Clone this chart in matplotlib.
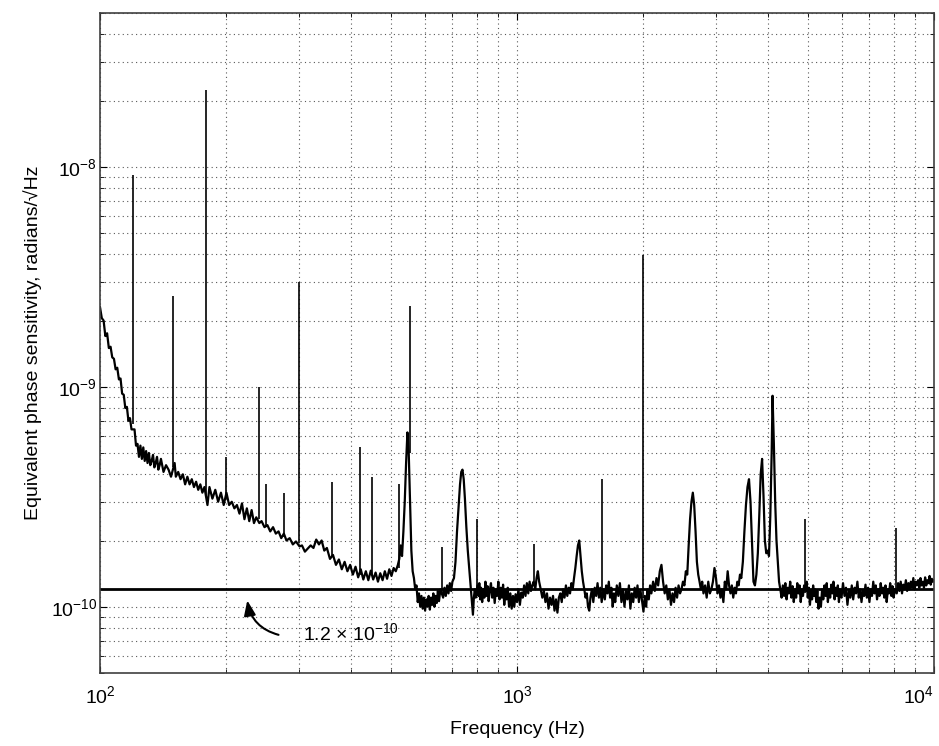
import numpy as np
import matplotlib
matplotlib.use("Agg")
import matplotlib.pyplot as plt
from matplotlib.ticker import LogLocator, NullFormatter

plt.rcParams['font.family'] = ['Liberation Sans', 'DejaVu Sans']
plt.rcParams['mathtext.default'] = 'regular'

UNIT = 1e-10

# noise trace below ~560 Hz (Hz, units of 1e-10 rad/sqrt(Hz))
freq_low = [
    100, 101, 102, 103, 104, 105, 106, 107, 108, 109, 110, 111, 112, 113, 114, 115, 116, 117, 118, 119,
    121, 122, 123, 124, 125, 126, 127, 128, 129, 130, 131, 132, 133, 134, 135, 136, 137, 138, 139, 140,
    142, 144, 146, 148, 151, 152, 154, 156, 158, 160, 162, 164, 166, 168, 170, 172, 174, 176, 178, 181,
    183, 186, 189, 192, 195, 198, 201, 204, 207, 210, 213, 216, 219, 222, 225, 228, 231, 234, 237, 241,
    244, 248, 252, 256, 260, 264, 268, 272, 276, 280, 285, 290, 295, 301, 305, 310, 315, 320, 325, 330,
    335, 340, 345, 350, 356, 362, 368, 374, 380, 386, 392, 398, 404, 410, 416, 422, 428, 434, 440, 446,
    452, 458, 464, 470, 476, 482, 488, 494, 500, 506, 512, 518, 522, 526, 530, 534, 538, 542, 546, 550,
    554, 558, 562,
]
amp_low = [
    23, 20.5, 20, 17, 17.5, 15, 15.2, 13.6, 13.4, 12, 12.2, 10.8, 10.9, 9.3, 9.2, 8.0, 8.1, 7.0, 7.2, 6.4,
    6.4, 5.4, 5.5, 4.8, 5.4, 4.7, 5.3, 4.6, 5.1, 4.5, 5.0, 4.4, 4.6, 4.9, 4.3, 4.5, 4.8, 4.2, 4.4, 4.7,
    4.1, 4.4, 4.2, 3.9, 4.5, 3.9, 4.1, 3.8, 4.0, 3.6, 3.9, 3.6, 3.8, 3.5, 3.7, 3.4, 3.6, 3.3, 3.5, 2.9,
    3.5, 3.1, 3.4, 3.0, 3.3, 2.9, 3.3, 2.9, 3.0, 2.8, 2.9, 2.65, 2.95, 2.5, 2.8, 2.45, 2.75, 2.4, 2.55, 2.4,
    2.45, 2.3, 2.35, 2.2, 2.3, 2.15, 2.2, 2.05, 2.15, 2.0, 2.05, 1.92, 1.98, 1.88, 1.9, 1.78, 1.84, 1.9, 1.85, 2.02,
    1.92, 2.0, 1.8, 1.85, 1.65, 1.72, 1.55, 1.64, 1.48, 1.6, 1.45, 1.55, 1.4, 1.52, 1.36, 1.48, 1.33, 1.45, 1.32, 1.46,
    1.33, 1.43, 1.3, 1.42, 1.32, 1.45, 1.34, 1.48, 1.38, 1.5, 1.45, 1.55, 1.65, 1.9, 1.7, 2.2, 3.0, 4.5, 6.2, 5.0,
    3.0, 1.8, 1.45,
]

# noise trace above ~560 Hz
freq_high = [
    566, 570, 574, 578, 582, 586, 590, 594, 598, 602, 606, 610, 614, 618, 622, 626, 630, 634, 638, 642,
    646, 650, 655, 665, 670, 675, 680, 685, 690, 695, 700, 706, 712, 718, 724, 730, 735, 740, 745, 750,
    756, 762, 768, 774, 780, 784, 788, 792, 796, 804, 808, 812, 816, 820, 825, 830, 835, 840, 845, 850,
    855, 860, 866, 872, 878, 884, 890, 896, 902, 908, 914, 920, 926, 932, 938, 944, 950, 957, 964, 971,
    978, 985, 992, 1000, 1008, 1016, 1024, 1032, 1040, 1048, 1056, 1064, 1072, 1080, 1088, 1096, 1106, 1114, 1122, 1130,
    1140, 1150, 1160, 1170, 1180, 1190, 1200, 1210, 1220, 1230, 1240, 1250, 1260, 1270, 1280, 1290, 1300, 1310, 1320, 1330,
    1340, 1350, 1360, 1370, 1380, 1390, 1400, 1410, 1420, 1430, 1440, 1450, 1460, 1470, 1480, 1490, 1500, 1512, 1524, 1536,
    1548, 1560, 1572, 1584, 1596, 1612, 1624, 1636, 1648, 1660, 1672, 1684, 1696, 1708, 1720, 1735, 1750, 1765, 1780, 1795,
    1810, 1825, 1840, 1855, 1870, 1885, 1900, 1915, 1930, 1945, 1960, 1975, 1990, 2010, 2025, 2040, 2055, 2070, 2085, 2100,
    2120, 2140, 2160, 2180, 2200, 2220, 2240, 2260, 2280, 2300, 2320, 2340, 2360, 2380, 2400, 2420, 2440, 2460, 2480, 2500,
    2520, 2540, 2560, 2580, 2600, 2620, 2640, 2660, 2680, 2700, 2720, 2740, 2760, 2780, 2800, 2825, 2850, 2875, 2900, 2925,
    2950, 2975, 3000, 3025, 3050, 3075, 3100, 3125, 3150, 3175, 3200, 3225, 3250, 3275, 3300, 3325, 3350, 3375, 3400, 3425,
    3450, 3480, 3510, 3540, 3570, 3600, 3630, 3660, 3690, 3720, 3750, 3780, 3810, 3840, 3870, 3900, 3930, 3960, 3990, 4020,
    4050, 4080, 4100, 4130, 4160, 4190, 4220, 4250, 4280, 4310, 4340, 4370, 4400, 4430, 4460, 4490, 4520, 4550, 4580, 4610,
    4640, 4670, 4700, 4730, 4760, 4790, 4820, 4850, 4880, 4920, 4950, 4980, 5010, 5040, 5070, 5100, 5130, 5160, 5190, 5220,
    5250, 5285, 5320, 5355, 5390, 5425, 5460, 5495, 5530, 5565, 5600, 5635, 5670, 5705, 5740, 5775, 5810, 5845, 5880, 5915,
    5950, 6000, 6050, 6100, 6150, 6200, 6250, 6300, 6350, 6400, 6450, 6500, 6550, 6600, 6650, 6700, 6750, 6800, 6850, 6900,
    6950, 7000, 7050, 7100, 7150, 7200, 7250, 7300, 7350, 7400, 7450, 7500, 7550, 7600, 7650, 7700, 7750, 7800, 7850, 7900,
    7950, 8000, 8060, 8140, 8200, 8260, 8320, 8380, 8440, 8500, 8560, 8620, 8680, 8740, 8800, 8860, 8920, 8980, 9040, 9100,
    9160, 9220, 9280, 9340, 9400, 9460, 9520, 9580, 9640, 9700, 9760, 9820, 9880, 9940, 10000,
]
amp_high = [
    1.35, 1.2, 1.25, 1.05, 1.15, 1.0, 1.12, 0.98, 1.1, 0.96, 1.08, 1.0, 1.12, 0.97, 1.1, 1.02, 1.15, 1.0, 1.12, 1.04,
    1.18, 1.06, 1.2, 1.1, 1.22, 1.12, 1.25, 1.15, 1.28, 1.18, 1.3, 1.35, 1.6, 2.2, 2.8, 3.6, 4.1, 4.2, 3.8, 3.1,
    2.3, 1.8, 1.5, 1.25, 1.05, 0.92, 1.1, 1.2, 1.1, 1.25, 1.12, 1.28, 1.08, 1.22, 1.05, 1.2, 1.1, 1.3, 1.12, 1.24,
    1.06, 1.18, 1.28, 1.1, 1.22, 1.04, 1.2, 1.12, 1.3, 1.08, 1.22, 1.1, 1.26, 1.02, 1.18, 1.08, 1.22, 1.0, 1.15, 0.98,
    1.12, 1.0, 1.14, 1.05, 1.2, 1.02, 1.16, 1.1, 1.25, 1.12, 1.28, 1.15, 1.3, 1.18, 1.25, 1.3, 1.2, 1.35, 1.45, 1.3,
    1.2, 1.1, 1.18, 1.05, 1.15, 0.98, 1.1, 1.02, 1.12, 0.96, 1.08, 0.94, 1.1, 1.15, 1.05, 1.2, 1.1, 1.25, 1.12, 1.22,
    1.15, 1.28, 1.2, 1.35, 1.5, 1.7, 1.9, 2.0, 1.7, 1.45, 1.3, 1.2, 1.1, 1.15, 1.0, 0.96, 1.1, 1.2, 1.05, 1.22,
    1.12, 1.28, 1.1, 1.22, 1.05, 1.2, 1.08, 1.25, 1.15, 1.3, 1.1, 1.22, 1.0, 1.15, 1.05, 1.25, 1.12, 1.28, 1.05, 1.2,
    1.0, 1.18, 1.08, 1.25, 0.98, 1.15, 1.05, 1.22, 1.1, 1.25, 1.05, 1.18, 1.1, 0.95, 1.12, 1.0, 1.2, 1.08, 1.25, 1.15,
    1.3, 1.18, 1.35, 1.25, 1.45, 1.55, 1.3, 1.15, 1.25, 1.08, 1.2, 1.02, 1.15, 1.05, 1.22, 1.1, 1.25, 1.15, 1.2, 1.3,
    1.25, 1.45, 1.4, 1.9, 2.5, 3.0, 3.3, 2.9, 2.2, 1.6, 1.4, 1.3, 1.2, 1.3, 1.15, 1.25, 1.1, 1.3, 1.15, 1.2,
    1.3, 1.5, 1.35, 1.15, 1.25, 1.1, 1.2, 1.05, 1.3, 1.2, 1.45, 1.25, 1.15, 1.25, 1.1, 1.22, 1.15, 1.3, 1.25, 1.4,
    1.35, 1.6, 2.2, 2.9, 3.5, 3.8, 3.0, 2.0, 1.3, 1.25, 1.4, 1.75, 2.6, 4.0, 4.7, 3.2, 2.0, 1.75, 1.8, 1.7,
    2.6, 5.0, 9.1, 5.5, 3.0, 2.0, 1.6, 1.3, 1.2, 1.1, 1.25, 1.12, 1.28, 1.08, 1.22, 1.15, 1.3, 1.1, 1.24, 1.05,
    1.2, 1.1, 1.28, 1.15, 1.25, 1.05, 1.2, 1.12, 1.25, 1.18, 1.3, 1.1, 1.22, 1.02, 1.18, 1.08, 1.25, 1.12, 1.2, 1.05,
    1.18, 0.98, 1.1, 1.0, 1.2, 1.08, 1.25, 1.12, 1.28, 1.05, 1.2, 1.1, 1.26, 1.15, 1.3, 1.08, 1.22, 1.12, 1.25, 1.05,
    1.2, 1.1, 1.28, 1.12, 1.22, 1.02, 1.18, 1.1, 1.25, 1.08, 1.22, 1.15, 1.3, 1.1, 1.2, 1.05, 1.18, 1.12, 1.26, 1.1,
    1.22, 1.05, 1.2, 1.12, 1.3, 1.15, 1.25, 1.08, 1.2, 1.12, 1.28, 1.15, 1.22, 1.1, 1.25, 1.05, 1.2, 1.15, 1.28, 1.12,
    1.24, 1.1, 1.2, 1.15, 1.28, 1.18, 1.3, 1.15, 1.26, 1.2, 1.32, 1.18, 1.28, 1.2, 1.3, 1.22, 1.35, 1.2, 1.3, 1.25,
    1.32, 1.22, 1.35, 1.25, 1.3, 1.22, 1.36, 1.25, 1.32, 1.28, 1.38, 1.26, 1.34, 1.3, 1.32,
]

# narrow line features: frequency, foot, top (units of 1e-10)
spike_freq = [120, 150, 180, 200, 240, 250, 276, 300, 360, 420, 450, 520, 553, 660, 800, 1100, 1600, 2000, 4900, 8100]
spike_foot = [6.8, 4.3, 3.2, 3.1, 2.5, 2.3, 2.07, 1.95, 1.68, 1.4, 1.38, 1.5, 5.0, 1.15, 1.15, 1.25, 1.15, 1.1, 1.15, 1.2]
spike_top = [92, 25.9, 223, 4.8, 10.0, 3.6, 3.3, 29.8, 3.7, 5.3, 3.9, 3.6, 23.4, 1.86, 2.5, 1.93, 3.8, 39.5, 2.5, 2.28]

floor_level = 1.2e-10

fig = plt.figure(figsize=(9.39, 7.46), dpi=100)
ax = fig.add_axes([0.1065, 0.0979, 0.8882, 0.8847])

freq = freq_low + freq_high
amp = np.array(amp_low + amp_high) * UNIT
ax.plot(freq, amp, color='black', linewidth=1.6)
ax.vlines(spike_freq, np.array(spike_foot) * UNIT, np.array(spike_top) * UNIT,
          color='black', linewidth=1.2)
ax.axhline(floor_level, color='black', linewidth=2.0)

ax.set_xscale('log')
ax.set_yscale('log')
ax.set_xlim(100, 10000)
ax.set_ylim(5e-11, 5e-8)

ax.set_xticks([100, 1000, 10000], labels=['$10^{2}$', '$10^{3}$', '$10^{4}$'])
ax.get_xticklabels()[-1].set_horizontalalignment('right')
ax.xaxis.set_minor_locator(LogLocator(base=10, subs=np.arange(2, 10)))
ax.yaxis.set_minor_locator(LogLocator(base=10, subs=np.arange(2, 10)))
ax.xaxis.set_minor_formatter(NullFormatter())
ax.yaxis.set_minor_formatter(NullFormatter())

ax.grid(True, which='both', linestyle=(0, (1, 3)), color='0.35', linewidth=0.8)
ax.tick_params(which='both', direction='in', top=True, right=True, labelsize=14)
ax.tick_params(which='major', length=5)
ax.tick_params(which='minor', length=3)
ax.tick_params(axis='x', pad=9)
ax.tick_params(axis='y', pad=2)
for s in ax.spines.values():
    s.set_linewidth(1.2)
    s.set_color('0.25')

ax.set_xlabel('Frequency (Hz)', fontsize=14, labelpad=10)
ax.set_ylabel('Equivalent phase sensitivity, radians/\u221aHz', fontsize=14, labelpad=6)

ax.annotate('', xy=(225, 1.1e-10), xytext=(272, 7.4e-11),
            arrowprops=dict(arrowstyle='-|>,head_length=0.9,head_width=0.35',
                            connectionstyle='arc3,rad=-0.35', color='black', lw=1.5))
ax.text(307, 7.6e-11, '1.2 \u00d7 10$^{-10}$', fontsize=14, ha='left', va='center')

fig.savefig('out.png', dpi=100)
